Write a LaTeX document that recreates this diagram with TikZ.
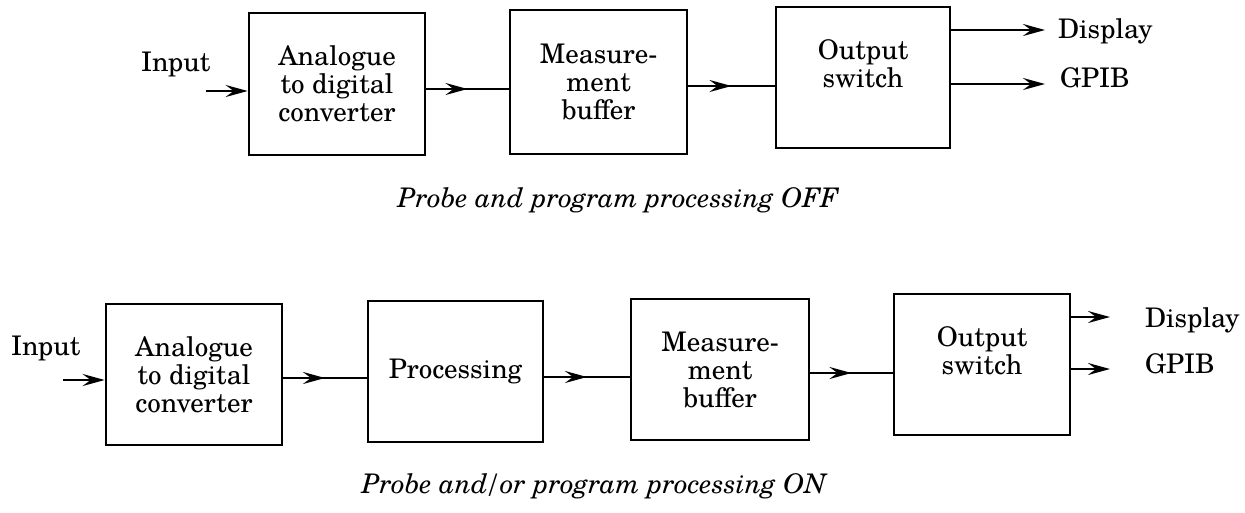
\documentclass[tikz,border=0pt]{standalone}
\usepackage{fontspec}
\setmainfont{TeX Gyre Schola}
\usetikzlibrary{arrows.meta,decorations.markings}
\newcommand\dgfont{\fontsize{27}{28}\selectfont}
\begin{document}
\begin{tikzpicture}[x=1pt,y=-1pt,
  box/.style={draw,line width=2.7pt,inner sep=0pt,align=center,font=\dgfont,
    minimum width=176pt,minimum height=141pt},
  lbl/.style={inner sep=0pt,font=\dgfont},
  captext/.style={inner sep=0pt,font=\dgfont\itshape},
  arr/.style={line width=2.7pt,-{Stealth[length=22pt,width=12pt,inset=8pt]}},
  midarr/.style={line width=2.7pt,decoration={markings,
    mark=at position 0.5 with {\arrow{Stealth[length=22pt,width=12pt,inset=8pt]}}},
    postaction={decorate}}]
\useasboundingbox (0,0) rectangle (1245,512);
% ---------- top row ----------
\node[box,minimum height=142pt] (t1) at (337,84) {Analogue\\to digital\\converter};
\node[box,minimum width=177pt,minimum height=144pt] (t2) at (598.5,82) {Measure-\\ment\\buffer};
\node[box,minimum width=174pt] (t3) at (863,77.5) {Output\\switch\\~};
\node[lbl,anchor=base west] (tin) at (141,71) {Input};
\node[lbl,anchor=base west] (tdisp) at (1058,38) {Display};
\node[lbl,anchor=base west] (tgpib) at (1060,87) {GPIB};
\node[captext] (tcap) at (618,200) {Probe and program processing OFF};
\coordinate (tinS) at (206,91);
\draw[arr] (tinS) -- (tinS -| t1.west);
\path (t1.east) ++(0,5) coordinate (a1);
\draw[midarr] (a1) -- (a1 -| t2.west);
\path (t2.east) ++(0,4) coordinate (a2);
\draw[midarr] (a2) -- (a2 -| t3.west);
\coordinate (tdE) at (1045,30);
\coordinate (tgE) at (1045,84);
\draw[arr] (tdE -| t3.east) -- (tdE);
\draw[arr] (tgE -| t3.east) -- (tgE);
% ---------- bottom row ----------
\node[box] (b1) at (194,374.5) {Analogue\\to digital\\converter};
\node[box,minimum width=175pt] (b2) at (455.5,371.5) {Processing};
\node[box,minimum width=178pt] (b3) at (720,369.5) {Measure-\\ment\\buffer};
\node[box] (b4) at (982,364.5) {Output\\switch\\~};
\node[lbl,anchor=base west] (bin) at (11,355) {Input};
\node[lbl,anchor=base west] (bdisp) at (1145,327) {Display};
\node[lbl,anchor=base west] (bgpib) at (1145,373) {GPIB};
\node[captext] (bcap) at (594,486) {Probe and\kern-3pt/\kern-1pt or program processing ON};
\coordinate (binS) at (63,380);
\draw[arr] (binS) -- (binS -| b1.west);
\path (b1.east) ++(0,3.5) coordinate (c1);
\draw[midarr] (c1) -- (c1 -| b2.west);
\path (b2.east) ++(0,5.5) coordinate (c2);
\draw[midarr] (c2) -- (c2 -| b3.west);
\path (b3.east) ++(0,3.5) coordinate (c3);
\draw[midarr] (c3) -- (c3 -| b4.west);
\coordinate (bdE) at (1110,317);
\coordinate (bgE) at (1110,369);
\draw[arr] (bdE -| b4.east) -- (bdE);
\draw[arr] (bgE -| b4.east) -- (bgE);
\end{tikzpicture}
\end{document}
